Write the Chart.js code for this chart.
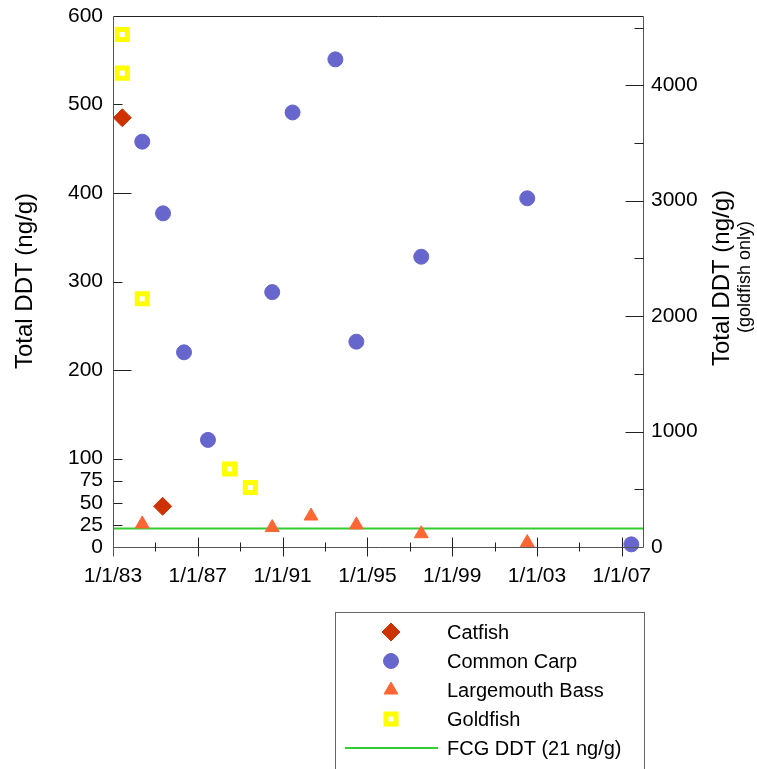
<!DOCTYPE html>
<html>
<head>
<meta charset="utf-8">
<script src="https://cdn.jsdelivr.net/npm/chart.js@4/dist/chart.umd.min.js"></script>
<style>
    html, body { margin: 0; padding: 0; background: #fff; }
    canvas { display: block; }
</style>
</head>
<body>
<canvas id="ddtChart" width="757" height="769"></canvas>
<script>
// --- DATOS (años decimales, ng/g) --- //
const catfishYears = [1983.44, 1985.34];
const catfishDDT = [485, 46];

const carpYears = [1984.38, 1985.36, 1986.35, 1987.48, 1990.51, 1991.47, 1993.49, 1994.48, 1997.54, 2002.54, 2007.45];
const carpDDT = [458, 377, 220, 121, 288, 491, 551, 232, 328, 394, 3];

const bassYears = [1984.38, 1990.51, 1992.34, 1994.48, 1997.54, 2002.54];
const bassDDT = [26, 22, 35, 25, 15, 5];

// goldfish va en el eje derecho
const goldfishYears = [1983.44, 1983.44, 1984.38, 1988.5, 1989.48];
const goldfishDDT = [4440, 4105, 2150, 675, 515];

const fcgYears = [1983, 2008];
const fcgLevel = 21;

const xTicks = [1983, 1985, 1987, 1989, 1991, 1993, 1995, 1997, 1999, 2001, 2003, 2005, 2007];
const leftTicks = [0, 25, 50, 75, 100, 200, 300, 400, 500, 600];
const rightTicks = [0, 1000, 2000, 3000, 4000];
const rightMinorTicks = [500, 1500, 2500, 3500, 4500];

const colors = {
    catfish: '#CC3300',
    carp: '#6666CC',
    bass: '#FF6633',
    goldfish: '#FFFF00',
    fcg: '#33CC33',
    axis: '#555555',
    text: '#000000'
};

const FONT = '"Liberation Sans", Arial, sans-serif';

const toPoints = (xs, ys) => xs.map((x, i) => ({ x, y: ys[i] }));
const yearLabel = (v) => '1/1/' + String(v).slice(2);

// --- Plugin: marco, marcas de los ejes, títulos y leyenda --- //
const frameAndLegend = {
    id: 'frameAndLegend',
    afterDraw(chart) {
        const { ctx, chartArea: { left, right, top, bottom }, scales: { x, y, y2 } } = chart;
        const L = Math.round(left) + 0.5, R = Math.round(right) + 0.5;
        const T = Math.round(top) + 0.5, B = Math.round(bottom) + 0.5;

        ctx.save();
        ctx.lineWidth = 1;

        // borde superior
        ctx.strokeStyle = '#222';
        ctx.beginPath(); ctx.moveTo(L, T); ctx.lineTo(R, T); ctx.stroke();

        // ejes
        ctx.strokeStyle = colors.axis;
        ctx.beginPath();
        ctx.moveTo(L, T); ctx.lineTo(L, B + 9);
        ctx.moveTo(R, T); ctx.lineTo(R, B);
        ctx.moveTo(L, B); ctx.lineTo(R, B);
        ctx.stroke();

        ctx.strokeStyle = '#222';
        ctx.beginPath();
        // marcas eje izquierdo
        leftTicks.forEach(v => {
            if (v === 0 || v === 600) return;
            const py = Math.round(y.getPixelForValue(v)) + 0.5;
            const len = (v === 200 || v === 400) ? 18 : 9;
            ctx.moveTo(L, py); ctx.lineTo(L + len, py);
        });
        // marcas eje derecho
        rightTicks.concat(rightMinorTicks).forEach(v => {
            if (v === 0) return;
            const py = Math.round(y2.getPixelForValue(v)) + 0.5;
            const len = rightTicks.includes(v) ? 18 : 9;
            ctx.moveTo(R, py); ctx.lineTo(R - len, py);
        });
        // marcas eje x
        xTicks.forEach(v => {
            if (v === 1983) return;
            const px = Math.round(x.getPixelForValue(v)) + 0.5;
            const major = (v - 1983) % 4 === 0;
            ctx.moveTo(px, B - (major ? 10 : 5));
            ctx.lineTo(px, B + (major ? 9 : 4));
        });
        ctx.stroke();

        // títulos de los ejes
        ctx.fillStyle = colors.text;
        ctx.textAlign = 'center';
        ctx.textBaseline = 'middle';
        const vText = (txt, cx, cy, size) => {
            ctx.save();
            ctx.translate(cx, cy);
            ctx.rotate(-Math.PI / 2);
            ctx.font = `${size}px ${FONT}`;
            ctx.fillText(txt, 0, 0);
            ctx.restore();
        };
        vText('Total DDT (ng/g)', 25, 281, 24);
        vText('Total DDT (ng/g)', 722, 278, 24);
        vText('(goldfish only)', 745, 277, 18);

        // leyenda
        ctx.strokeStyle = '#666';
        ctx.strokeRect(335.5, 612.5, 309, 170);

        const items = [
            { label: 'Catfish', style: 'rectRot', radius: 9, fill: colors.catfish, stroke: colors.catfish, bw: 1 },
            { label: 'Common Carp', style: 'circle', radius: 7.5, fill: colors.carp, stroke: colors.carp, bw: 1 },
            { label: 'Largemouth Bass', style: 'triangle', radius: 8, fill: colors.bass, stroke: colors.bass, bw: 1 },
            { label: 'Goldfish', style: 'rect', radius: 7.1, fill: '#FFFFFF', stroke: colors.goldfish, bw: 5 },
            { label: 'FCG DDT (21 ng/g)', line: true }
        ];
        ctx.font = `20px ${FONT}`;
        items.forEach((it, i) => {
            const cy = 632 + i * 29;
            if (it.line) {
                ctx.strokeStyle = colors.fcg;
                ctx.lineWidth = 2;
                ctx.beginPath(); ctx.moveTo(345, cy); ctx.lineTo(438, cy); ctx.stroke();
            } else {
                ctx.fillStyle = it.fill;
                ctx.strokeStyle = it.stroke;
                ctx.lineWidth = it.bw;
                Chart.helpers.drawPoint(ctx, { pointStyle: it.style, radius: it.radius, rotation: 0, borderWidth: it.bw }, 391, cy);
            }
            ctx.fillStyle = colors.text;
            ctx.textAlign = 'left';
            ctx.fillText(it.label, 447, cy + 1);
        });

        ctx.restore();
    }
};

// --- GRÁFICO --- //
new Chart(document.getElementById('ddtChart'), {
    type: 'scatter',
    data: {
        datasets: [
            {
                label: 'Catfish',
                data: toPoints(catfishYears, catfishDDT),
                yAxisID: 'y',
                pointStyle: 'rectRot',
                pointRadius: 9,
                backgroundColor: colors.catfish,
                borderColor: colors.catfish,
                borderWidth: 1,
                clip: false
            },
            {
                label: 'Common Carp',
                data: toPoints(carpYears, carpDDT),
                yAxisID: 'y',
                pointStyle: 'circle',
                pointRadius: 7.5,
                backgroundColor: colors.carp,
                borderColor: colors.carp,
                borderWidth: 1,
                clip: false
            },
            {
                label: 'Largemouth Bass',
                data: toPoints(bassYears, bassDDT),
                yAxisID: 'y',
                pointStyle: 'triangle',
                pointRadius: 8,
                backgroundColor: colors.bass,
                borderColor: colors.bass,
                borderWidth: 1,
                clip: false
            },
            {
                label: 'Goldfish',
                data: toPoints(goldfishYears, goldfishDDT),
                yAxisID: 'y2',
                pointStyle: 'rect',
                pointRadius: 7.1,
                backgroundColor: '#FFFFFF',
                borderColor: colors.goldfish,
                borderWidth: 5,
                clip: false
            },
            {
                label: 'FCG DDT (21 ng/g)',
                data: fcgYears.map(x => ({ x, y: fcgLevel })),
                yAxisID: 'y',
                showLine: true,
                pointRadius: 0,
                borderColor: colors.fcg,
                borderWidth: 2,
                order: 10
            }
        ]
    },
    plugins: [frameAndLegend],
    options: {
        responsive: false,
        animation: false,
        layout: { autoPadding: false, padding: { top: 16, left: 0, right: 0, bottom: 0 } },
        plugins: {
            legend: { display: false },
            tooltip: { enabled: false }
        },
        scales: {
            x: {
                type: 'linear',
                min: 1983,
                max: 2008,
                afterBuildTicks: (s) => { s.ticks = xTicks.map(v => ({ value: v })); },
                afterFit: (s) => { s.height = 222; s.paddingLeft = 0; s.paddingRight = 0; },
                grid: { display: false, drawTicks: false },
                border: { display: false },
                ticks: {
                    autoSkip: false,
                    maxRotation: 0,
                    padding: 17,
                    color: colors.text,
                    font: { family: FONT, size: 21 },
                    callback: (v) => ((v - 1983) % 4 === 0 ? yearLabel(v) : '')
                }
            },
            y: {
                type: 'linear',
                position: 'left',
                min: 0,
                max: 600,
                afterBuildTicks: (s) => { s.ticks = leftTicks.map(v => ({ value: v })); },
                afterFit: (s) => { s.width = 113; s.paddingTop = 0; s.paddingBottom = 0; },
                grid: { display: false, drawTicks: false },
                border: { display: false },
                ticks: {
                    padding: 10,
                    color: colors.text,
                    font: { family: FONT, size: 21 },
                    callback: (v) => String(v)
                }
            },
            y2: {
                type: 'linear',
                position: 'right',
                min: 0,
                max: 4600,
                afterBuildTicks: (s) => { s.ticks = rightTicks.map(v => ({ value: v })); },
                afterFit: (s) => { s.width = 114; s.paddingTop = 0; s.paddingBottom = 0; },
                grid: { display: false, drawTicks: false },
                border: { display: false },
                ticks: {
                    padding: 8,
                    color: colors.text,
                    font: { family: FONT, size: 21 },
                    callback: (v) => String(v)
                }
            }
        }
    }
});
</script>
</body>
</html>
